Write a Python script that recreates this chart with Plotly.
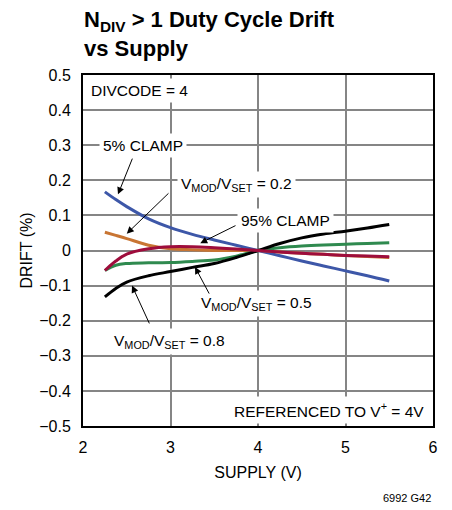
import plotly.graph_objects as go

# ---- data ----
supply = [2.25, 2.375, 2.5, 2.75, 3.0, 3.25, 3.5, 3.75, 4.0, 4.25, 4.5, 4.75, 5.0, 5.25, 5.5]
clamp5 = [0.167, 0.145, 0.125, 0.090, 0.065, 0.046, 0.030, 0.015, 0.0, -0.015, -0.030, -0.044, -0.058, -0.072, -0.087]
vmod02 = [0.052, 0.043, 0.034, 0.015, 0.005, 0.002, 0.0, 0.0, 0.0, -0.004, -0.008, -0.011, -0.014, -0.017, -0.020]
clamp95 = [-0.057, -0.030, -0.010, 0.005, 0.011, 0.011, 0.008, 0.004, 0.0, -0.004, -0.008, -0.011, -0.014, -0.016, -0.018]
vmod05 = [-0.057, -0.042, -0.037, -0.035, -0.034, -0.031, -0.027, -0.016, 0.0, 0.008, 0.013, 0.016, 0.018, 0.020, 0.022]
vmod08 = [-0.132, -0.108, -0.090, -0.072, -0.060, -0.048, -0.037, -0.020, 0.0, 0.020, 0.036, 0.047, 0.055, 0.064, 0.074]

series = [
    ("5% CLAMP", clamp5, "#3d57a8"),
    ("VMOD/VSET = 0.2", vmod02, "#c87533"),
    ("VMOD/VSET = 0.5", vmod05, "#2f8a4f"),
    ("VMOD/VSET = 0.8", vmod08, "#000000"),
    ("95% CLAMP", clamp95, "#9e0d3c"),
]

x_ticks = [2, 3, 4, 5, 6]
y_ticks = [0.5, 0.4, 0.3, 0.2, 0.1, 0, -0.1, -0.2, -0.3, -0.4, -0.5]
y_tick_text = ["0.5", "0.4", "0.3", "0.2", "0.1", "0", "\u22120.1", "\u22120.2",
               "\u22120.3", "\u22120.4", "\u22120.5"]

FONT = "Liberation Sans, Arial, sans-serif"
LABEL_SIZE = 15.5

fig = go.Figure()
for name, vals, color in series:
    fig.add_trace(go.Scatter(x=supply, y=vals, mode="lines", name=name,
                             line=dict(color=color, width=3, shape="spline"),
                             showlegend=False))

ann = []
labels = [
    ("DIVCODE = 4", 2.045, 0.457, "left"),
    ("5% CLAMP", 2.69, 0.300, "center"),
    ("V<sub>MOD</sub>/V<sub>SET</sub> = 0.2", 3.75, 0.187, "center"),
    ("95% CLAMP", 4.31, 0.085, "center"),
    ("V<sub>MOD</sub>/V<sub>SET</sub> = 0.5", 3.98, -0.152, "center"),
    ("V<sub>MOD</sub>/V<sub>SET</sub> = 0.8", 2.99, -0.258, "center"),
    ("REFERENCED TO V<sup>+</sup> = 4V", 5.945, -0.455, "right"),
]
for t, x, y, xa in labels:
    ann.append(dict(text=t, x=x, y=y, xref="x", yref="y", xanchor=xa, yanchor="middle",
                    showarrow=False, bgcolor="white", borderpad=3,
                    font=dict(family=FONT, size=LABEL_SIZE, color="black")))

arrows = [
    (2.571, 0.266, 2.40, 0.160),
    (2.994, 0.167, 2.50, 0.048),
    (3.76, 0.073, 3.34, 0.021),
    (3.451, -0.127, 3.28, -0.047),
    (2.766, -0.212, 2.56, -0.100),
]
for ax, ay, hx, hy in arrows:
    ann.append(dict(text="", x=hx, y=hy, ax=ax, ay=ay, xref="x", yref="y",
                    axref="x", ayref="y", showarrow=True, arrowhead=2,
                    arrowsize=1.4, arrowwidth=1, arrowcolor="black"))

ann.append(dict(text="<b>N<sub>DIV</sub> > 1 Duty Cycle Drift<br>vs Supply</b>",
                xref="paper", yref="paper", x=0.0, y=1.197, xanchor="left", yanchor="top",
                align="left", showarrow=False, borderpad=0,
                font=dict(family=FONT, size=22, color="black")))
ann.append(dict(text="6992 G42", xref="paper", yref="paper", x=1.0, y=-0.205,
                xanchor="right", yanchor="middle", showarrow=False,
                font=dict(family=FONT, size=11, color="black")))

# page body has an 8px default margin: size the figure to fill the rest of the window
fig.update_layout(
    width=444, height=502,
    margin=dict(l=75, r=19, t=67, b=84, autoexpand=False),
    paper_bgcolor="white", plot_bgcolor="white",
    font=dict(family=FONT, size=16, color="black"),
    annotations=ann,
)
fig.update_xaxes(range=[2, 6], tickvals=x_ticks, showgrid=True, gridcolor="#858585",
                 gridwidth=1.5, showline=True, linecolor="black", linewidth=2, mirror=True,
                 zeroline=False, ticks="", ticklabelstandoff=6, automargin=False,
                 tickfont=dict(size=16),
                 title=dict(text="SUPPLY (V)", standoff=12, font=dict(size=16)))
fig.update_yaxes(range=[-0.5, 0.5], tickvals=y_ticks, ticktext=y_tick_text,
                 showgrid=True, gridcolor="#858585",
                 gridwidth=1.5, showline=True, linecolor="black", linewidth=2, mirror=True,
                 zeroline=False, ticks="", ticklabelstandoff=7, automargin=False,
                 tickfont=dict(size=16),
                 title=dict(text="DRIFT (%)", standoff=3, font=dict(size=16)))
fig.write_html("out.html")
